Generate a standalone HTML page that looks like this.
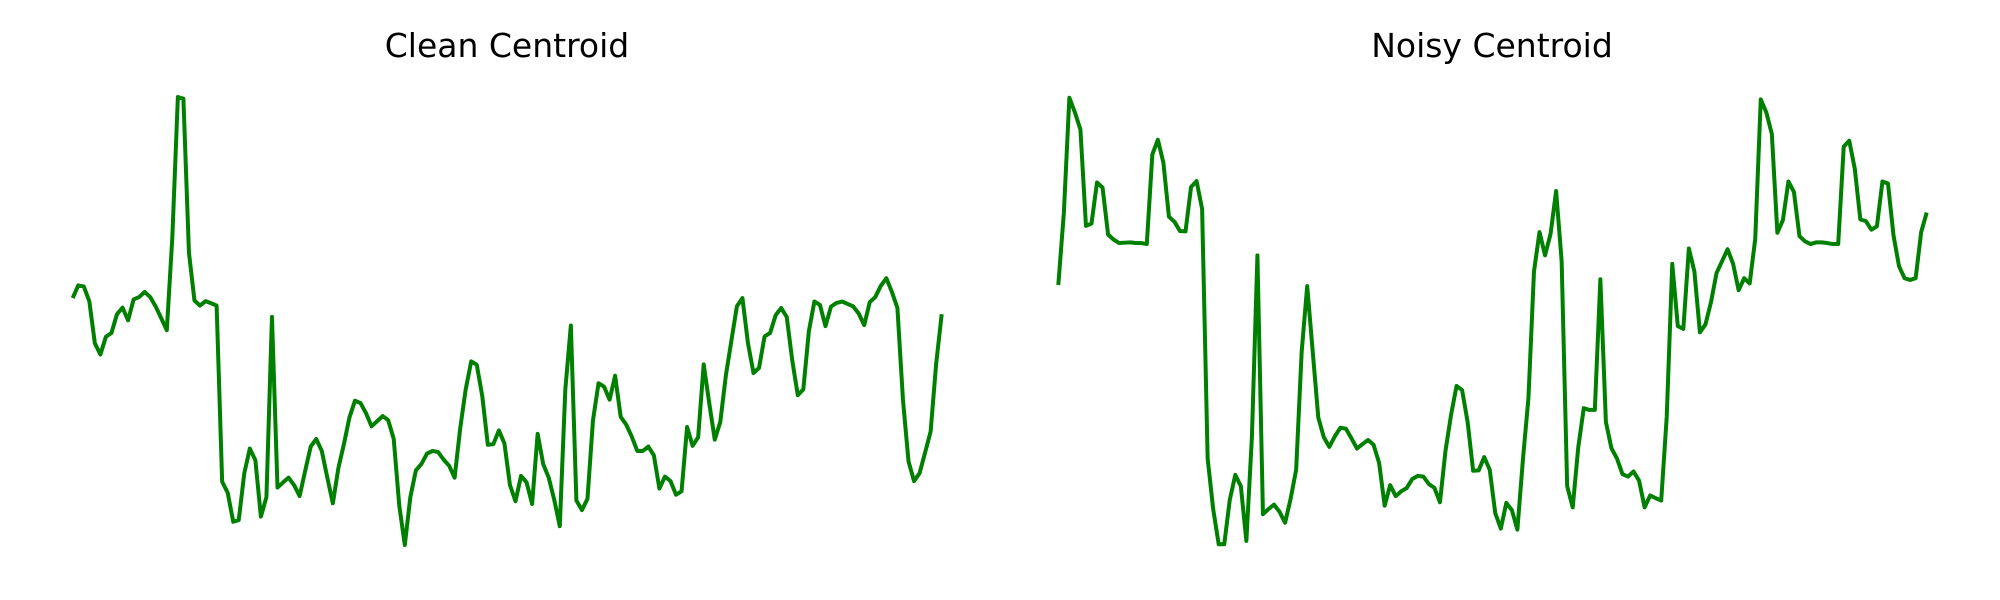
<!DOCTYPE html>
<html><head><meta charset="utf-8"><style>
html,body{margin:0;padding:0;background:#fff;}
svg{display:block;}
text{font-family:"DejaVu Sans","Liberation Sans",sans-serif;}
</style></head><body>
<svg id="chart" width="2000" height="600" viewBox="0 0 2000 600">
  <text x="507" y="57" font-size="33" text-anchor="middle" fill="#000">Clean Centroid</text>
  <text x="1492" y="57" font-size="33" text-anchor="middle" fill="#000">Noisy Centroid</text>
  <g id="left-plot"></g>
  <g id="right-plot"></g>
</svg>
<script>
const cleanValues = [927,964,961,918,795,762,814,825,880,899,862,923,930,945,930,902,868,833,1105,1515,1510,1060,920,905,918,912,905,390,358,273,278,415,487,453,288,345,872,373,388,402,380,348,422,493,515,480,402,327,430,500,578,627,620,590,552,567,582,570,515,
320,205,345,423,442,472,480,477,455,437,402,545,660,742,732,640,498,500,540,502,380,333,407,388,325,530,442,402,337,260,660,847,335,307,340,570,678,668,630,700,580,557,522,480,480,493,467,370,405,392,352,362,550,495,520,733,620,513,565,700,802,903,927,
795,708,723,815,825,877,898,872,745,643,660,830,917,907,845,902,913,917,910,903,882,848,915,930,963,985,945,898,630,450,392,415,475,537,735,880];
const noisyValues = [965,1175,1513,1470,1420,1138,1145,1265,1250,1113,1098,1088,1089,1090,1088,1088,1085,1347,1390,1323,1165,1150,1123,1122,1252,1269,1188,458,310,207,207,337,410,377,217,520,1052,295,310,323,302,270,340,425,770,962,770,578,520,492,523,548,545,517,487,
500,512,498,445,320,380,348,362,372,398,407,405,383,372,330,480,585,670,658,565,422,423,462,425,298,253,328,307,250,455,635,1005,1120,1052,1115,1240,1035,377,315,490,605,600,600,982,565,488,458,412,405,420,393,
315,350,342,335,580,1027,845,837,1072,1005,827,850,915,1000,1035,1070,1027,950,985,970,1100,1508,1470,1407,1118,1155,1268,1237,1108,1093,1085,1090,1090,1088,1085,1085,1370,1387,1305,1157,1152,1127,1137,1268,1262,1110,1020,985,980,985,1120,1177];
const yDomain = [0, 1620];

const NS = "http://www.w3.org/2000/svg";
function yScale(v){ return 615.1 + (v - yDomain[0]) / (yDomain[1] - yDomain[0]) * (61.1 - 615.1); }
function makeX(x0, x1, n){ return i => x0 + i * (x1 - x0) / (n - 1); }

function drawSeries(groupId, values, x0, x1, name){
  const g = document.getElementById(groupId);
  const xs = makeX(x0, x1, values.length);
  const pts = values.map((v,i) => xs(i).toFixed(2) + "," + yScale(v).toFixed(2)).join(" ");
  const pl = document.createElementNS(NS, "polyline");
  pl.setAttribute("points", pts);
  pl.setAttribute("fill", "none");
  pl.setAttribute("stroke", "#008000");
  pl.setAttribute("stroke-width", "4");
  pl.setAttribute("stroke-linejoin", "round");
  
  
  g.appendChild(pl);
}
drawSeries("left-plot", cleanValues, 72.7, 941.7, "clean-centroid-line");
drawSeries("right-plot", noisyValues, 1058.3, 1926.7, "noisy-centroid-line");
</script>
</body></html>
